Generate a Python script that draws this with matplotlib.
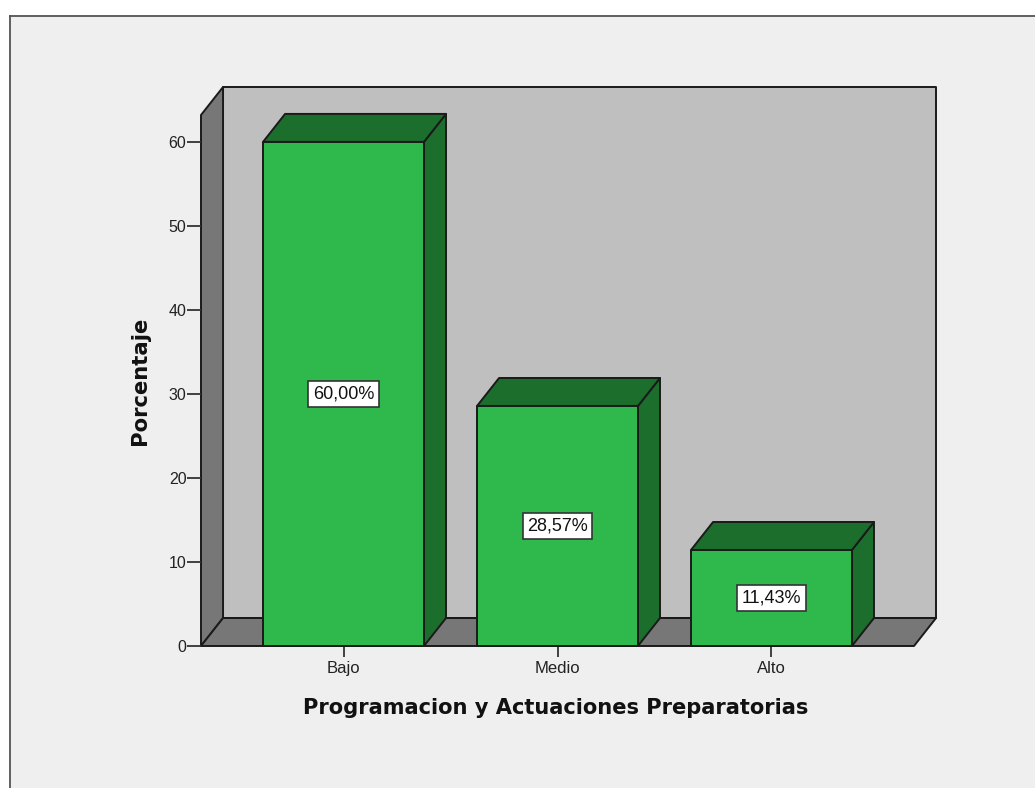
import matplotlib
matplotlib.use("Agg")
import matplotlib.pyplot as plt
from matplotlib.patches import Polygon, Rectangle
from matplotlib.lines import Line2D

categories = ["Bajo", "Medio", "Alto"]
values = [60.00, 28.57, 11.43]
labels = ["60,00%", "28,57%", "11,43%"]
yticks = [0, 10, 20, 30, 40, 50, 60]

# depth of the fake 3D, in data units
depth_x = 0.103
depth_y = 3.33
bar_width = 0.752

plt.rcParams['font.family'] = ['Liberation Sans', 'DejaVu Sans']

W, H = 1035, 788
fig = plt.figure(figsize=(W / 100, H / 100), dpi=100, facecolor='white')

# grey panel with its border on top and left only
fig.add_artist(Rectangle((9 / W, 0), 1, 1 - 15 / H, transform=fig.transFigure,
                         facecolor='#efefef', edgecolor='none', zorder=-2))
fig.add_artist(Line2D([9.5 / W, 9.5 / W], [0, 1 - 15.5 / H], color='#555555', lw=1.3, zorder=-1))
fig.add_artist(Line2D([9.5 / W, 1], [1 - 15.5 / H, 1 - 15.5 / H], color='#555555', lw=1.3, zorder=-1))

ax = fig.add_axes([201 / W, 1 - 646 / H, 713 / W, 531 / H])
ax.set_xlim(-0.666, 2.666)
ax.set_ylim(0, 63.2)
ax.patch.set_visible(False)
for s in ax.spines.values():
    s.set_visible(False)

x0, x1 = ax.get_xlim()
y1 = ax.get_ylim()[1]
edge = '#1a1a1a'


def poly(pts, color, z):
    ax.add_patch(Polygon(pts, closed=True, facecolor=color, edgecolor=edge, lw=1.4,
                         joinstyle='round', clip_on=False, zorder=z))


# back wall, left wall, floor
poly([(x0 + depth_x, depth_y), (x1 + depth_x, depth_y), (x1 + depth_x, y1 + depth_y), (x0 + depth_x, y1 + depth_y)], '#bfbfbf', 1)
poly([(x0, 0), (x0 + depth_x, depth_y), (x0 + depth_x, y1 + depth_y), (x0, y1)], '#777777', 1.1)
poly([(x0, 0), (x1, 0), (x1 + depth_x, depth_y), (x0 + depth_x, depth_y)], '#777777', 1.1)

for i, v in enumerate(values):
    l = i - bar_width / 2
    r = i + bar_width / 2
    poly([(r, 0), (r + depth_x, depth_y), (r + depth_x, v + depth_y), (r, v)], '#1c6e2d', 3)
    poly([(l, v), (r, v), (r + depth_x, v + depth_y), (l + depth_x, v + depth_y)], '#1c6e2d', 3)
    poly([(l, 0), (r, 0), (r, v), (l, v)], '#2fb84c', 4)
    ax.text(i, v / 2, labels[i], ha='center', va='center', fontsize=13, color='#111111', zorder=6,
            bbox=dict(boxstyle='square,pad=0.25', facecolor='white', edgecolor='#333333', lw=1.2))

ax.set_xticks(range(len(categories)))
ax.set_xticklabels(categories, fontsize=12, color='#222222')
ax.set_yticks(yticks)
ax.set_yticklabels([str(t) for t in yticks], fontsize=11.5, color='#222222')
ax.tick_params(axis='x', length=8, width=1.3, color='#333333', pad=2.5)
ax.tick_params(axis='y', length=10, width=1.3, color='#333333', pad=0.5)

title_font = ['DejaVu Sans']
fig.text(556 / W, 1 - 708 / H, "Programacion y Actuaciones Preparatorias", ha='center', va='center',
         fontsize=15.1, fontweight='bold', color='#111111', family=title_font)
fig.text(140 / W, 1 - 381 / H, "Porcentaje", ha='center', va='center', rotation=90,
         fontsize=15.2, fontweight='bold', color='#111111', family=title_font)

fig.savefig('out.png', dpi=100)
